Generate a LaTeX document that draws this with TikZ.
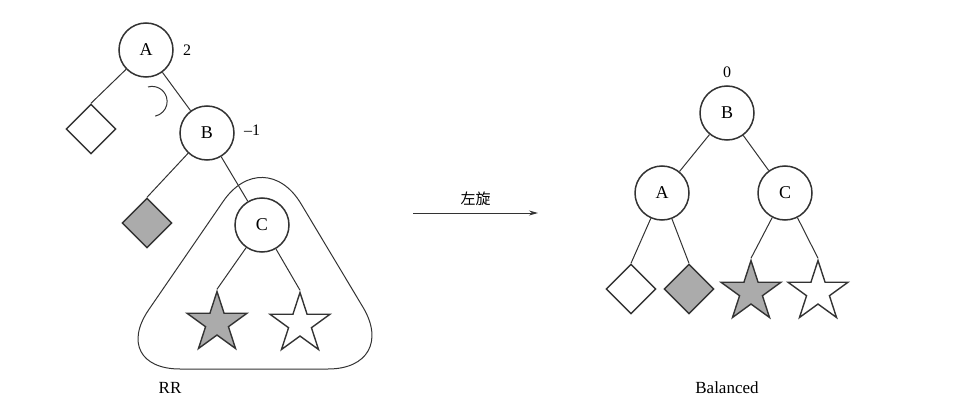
\documentclass[tikz,border=0pt]{standalone}
\usepackage{fontspec}
\setmainfont{Liberation Serif}
\newfontfamily\cjk{Noto Sans CJK SC}
\usetikzlibrary{shapes.geometric,arrows.meta}
\tikzset{
    avl/.style={draw=black!80,line width=1.5pt,circle,minimum size=54pt,
                inner sep=0pt,font=\fontsize{18}{20}\selectfont},
    leafsq/.style={draw=black!80,line width=1.4pt,diamond,minimum size=50pt,inner sep=0pt},
    % a regular five-pointed star, outer diameter given by minimum size
    leafstar/.style={draw=black!80,line width=1.4pt,star,star points=5,
                star point ratio=2.618,minimum size=63pt,inner sep=0pt},
    shaded/.style={fill=black!33},
    link/.style={draw=black!80,line width=1pt},
    factor/.style={font=\fontsize{16}{18}\selectfont},
    caption/.style={font=\fontsize{17}{19}\selectfont}
}
\begin{document}
\begin{tikzpicture}[x=1pt,y=-1pt]
  \useasboundingbox (0,0) rectangle (956,404);

  % unbalanced tree (RR)
  \node[avl] (lA) at (146,50) {A};
  \node[avl] (lB) at (207,133) {B};
  \node[avl] (lC) at (262,225) {C};
  \node[leafsq] (lsq1) at (91,129) {};
  \node[leafsq,shaded] (lsq2) at (147,223) {};
  \node[leafstar,shaded] (lst1) at (217,323) {};
  \node[leafstar] (lst2) at (300,324) {};

  \draw[link] (lA) -- (lsq1.north);
  \draw[link] (lA) -- (lB);
  \draw[link] (lB) -- (lsq2.north);
  \draw[link] (lB) -- (lC);
  \draw[link] (lC) -- (lst1.north);
  \draw[link] (lC) -- (lst2.north);

  \draw[link,rounded corners=72pt] (254,369) -- (108,369) -- (264,142)
    -- (400,369) -- cycle;
  \draw[link] (148,87) arc[start angle=-106,end angle=78,radius=15];

  \node[factor] (fA) at (187,50) {2};
  \node[factor] (fB) at (252,130) {\textendash1};
  \node[caption] (rr) at (170,388) {RR};

  % rotation
  \coordinate (from) at (413,213);
  \coordinate (to) at (538,213);
  \draw[link,-{Stealth[length=9pt,width=5pt]}] (from) -- (to)
    node[midway,above=3pt,font=\cjk\fontsize{15}{17}\selectfont] (rot) {左旋};

  % balanced tree
  \node[avl] (rB) at (727,113) {B};
  \node[avl] (rA) at (662,193) {A};
  \node[avl] (rC) at (785,193) {C};
  \node[leafsq] (rsq1) at (631,289) {};
  \node[leafsq,shaded] (rsq2) at (689,289) {};
  \node[leafstar,shaded] (rst1) at (751,292) {};
  \node[leafstar] (rst2) at (818,292) {};

  \draw[link] (rB) -- (rA);
  \draw[link] (rB) -- (rC);
  \draw[link] (rA) -- (rsq1.north);
  \draw[link] (rA) -- (rsq2.north);
  \draw[link] (rC) -- (rst1.north);
  \draw[link] (rC) -- (rst2.north);

  \node[factor] (fR) at (727,72) {0};
  \node[caption] (bal) at (727,388) {Balanced};

\end{tikzpicture}
\end{document}
